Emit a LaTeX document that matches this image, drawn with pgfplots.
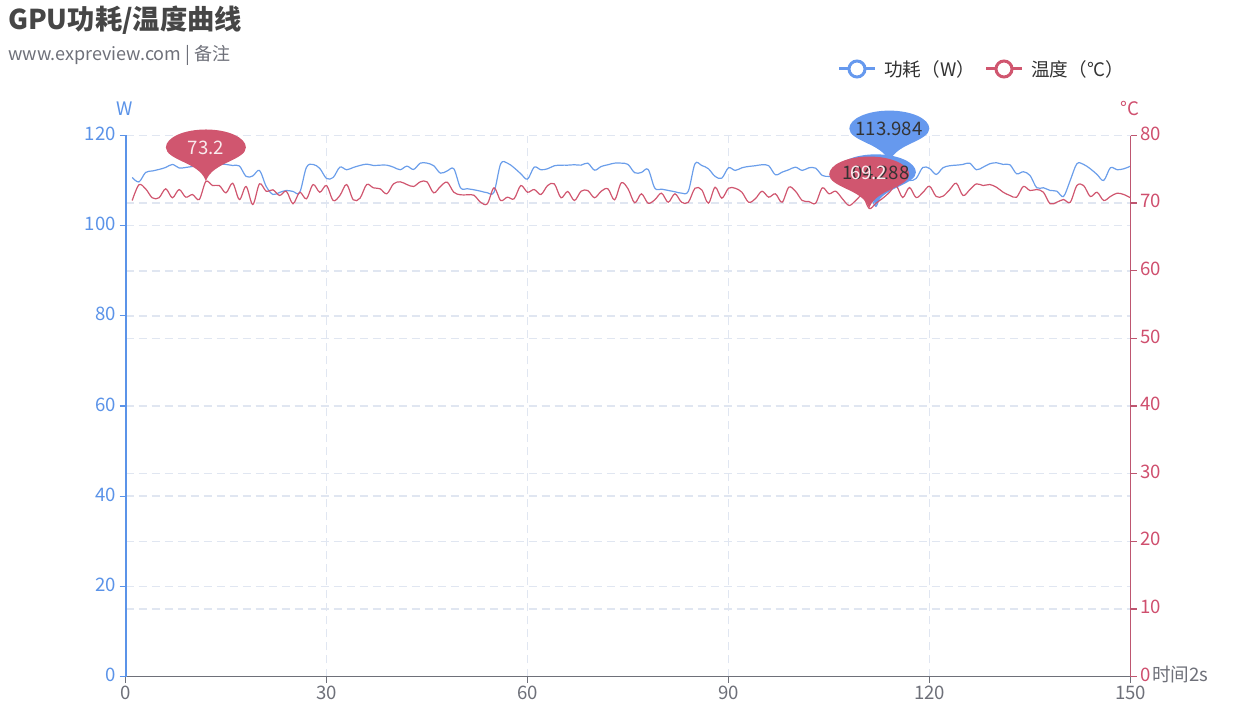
\documentclass[border=0pt]{standalone}
\usepackage{pgfplots}
\usepackage{pgfplotstable}
\usepackage{fontspec}
\pgfplotsset{compat=1.18}
\setmainfont{Noto Sans CJK SC}
\definecolor{cblue}{HTML}{6699EE}
\definecolor{cbluet}{HTML}{5B93E8}
\definecolor{cred}{HTML}{D0566F}
\definecolor{credt}{HTML}{CF4F6E}
\definecolor{credl}{HTML}{BE5670}
\definecolor{grayt}{HTML}{6E7079}
\definecolor{gridc}{HTML}{E0E6F1}
\definecolor{darkt}{HTML}{333333}
\definecolor{titlec}{HTML}{464646}
\pgfdeclareplotmark{pin}{%
  \pgfpathmoveto{\pgfpoint{0pt}{0pt}}%
  \pgfpathcurveto{\pgfpoint{-2pt}{7pt}}{\pgfpoint{-8pt}{13pt}}{\pgfpoint{-22pt}{19.3pt}}%
  \pgfpathcurveto{\pgfpoint{-32pt}{24pt}}{\pgfpoint{-40pt}{28pt}}{\pgfpoint{-40pt}{34pt}}%
  \pgfpathcurveto{\pgfpoint{-40pt}{44pt}}{\pgfpoint{-22pt}{52pt}}{\pgfpoint{0pt}{52pt}}%
  \pgfpathcurveto{\pgfpoint{22pt}{52pt}}{\pgfpoint{40pt}{44pt}}{\pgfpoint{40pt}{34pt}}%
  \pgfpathcurveto{\pgfpoint{40pt}{28pt}}{\pgfpoint{32pt}{24pt}}{\pgfpoint{22pt}{19.3pt}}%
  \pgfpathcurveto{\pgfpoint{8pt}{13pt}}{\pgfpoint{2pt}{7pt}}{\pgfpoint{0pt}{0pt}}%
  \pgfpathclose\pgfusepathqfill}
\pgfplotstableread{
t W
1 110.69
2 109.70
3 111.80
4 112.13
5 112.47
6 112.91
7 113.58
8 112.80
9 112.91
10 113.13
11 113.24
12 113.35
13 113.58
14 113.69
15 113.58
16 113.35
17 113.24
18 110.92
19 111.03
20 112.25
21 108.70
22 106.92
23 107.37
24 107.81
25 107.59
26 107.37
27 112.91
28 113.58
29 112.69
30 110.47
31 110.69
32 112.98
33 112.40
34 112.91
35 113.35
36 113.65
37 113.35
38 113.42
39 113.42
40 112.98
41 112.40
42 113.20
43 112.47
44 113.87
45 113.87
46 113.29
47 111.65
48 112.13
49 112.62
50 108.41
51 108.19
52 107.96
53 107.65
54 107.30
55 107.43
56 113.73
57 113.87
58 112.84
59 111.51
60 110.32
61 112.98
62 112.40
63 112.62
64 113.29
65 113.42
66 113.42
67 113.51
68 113.42
69 113.87
70 112.31
71 113.13
72 113.51
73 113.87
74 113.87
75 113.58
76 111.74
77 111.80
78 112.47
79 108.32
80 108.10
81 107.81
82 107.52
83 107.21
84 107.65
85 113.73
86 113.35
87 112.62
88 110.92
89 110.54
90 112.84
91 112.25
92 112.84
93 113.13
94 113.29
95 113.51
96 113.29
97 111.29
98 111.87
99 112.40
100 112.98
101 112.25
102 112.84
103 112.75
104 111.14
105 110.92
106 110.92
107 111.80
108 112.25
109 112.69
110 111.14
111 107.81
112 104.288
113 108.92
114 113.984
115 112.25
116 111.14
117 110.03
118 110.47
119 112.91
120 112.69
121 111.36
122 112.84
123 113.29
124 113.42
125 113.58
126 113.87
127 112.40
128 112.98
129 113.73
130 113.95
131 113.58
132 113.51
133 111.51
134 111.96
135 111.14
136 108.41
137 108.41
138 107.81
139 107.65
140 106.48
141 110.03
142 113.73
143 113.58
144 112.62
145 111.36
146 110.03
147 112.84
148 112.40
149 112.62
150 113.20
}\powertable
\pgfplotstableread{
t T
1 70.39
2 72.71
3 72.12
4 70.79
5 70.79
6 72.12
7 70.79
8 72.01
9 70.88
10 71.27
11 70.53
12 73.20
13 72.60
14 72.60
15 71.52
16 72.94
17 70.53
18 72.46
19 69.80
20 72.85
21 71.76
22 71.97
23 71.13
24 71.76
25 69.90
26 71.61
27 70.64
28 72.75
29 71.61
30 72.60
31 70.39
32 71.13
33 72.75
34 70.49
35 70.73
36 72.75
37 72.26
38 72.12
39 71.38
40 72.85
41 73.15
42 72.75
43 72.46
44 73.15
45 73.15
46 71.52
47 72.46
48 73.10
49 71.61
50 71.23
51 71.23
52 71.17
53 70.13
54 69.90
55 72.26
56 70.39
57 70.88
58 70.64
59 72.60
60 71.61
61 72.01
62 71.27
63 72.60
64 72.85
65 70.79
66 71.72
67 70.39
68 71.76
69 71.86
70 70.79
71 71.76
72 72.12
73 70.49
74 73.00
75 72.12
76 70.05
77 71.38
78 69.99
79 70.49
80 71.47
81 70.13
82 71.38
83 70.13
84 70.13
85 72.20
86 71.97
87 69.99
88 72.35
89 70.73
90 72.20
91 72.20
92 71.61
93 70.13
94 70.64
95 71.76
96 70.88
97 71.38
98 70.13
99 72.35
100 71.76
101 70.39
102 70.24
103 69.99
104 72.26
105 71.38
106 71.76
107 70.64
108 69.65
109 70.39
110 71.13
111 69.20
112 69.99
113 70.70
114 71.57
115 72.60
116 70.83
117 72.31
118 70.83
119 71.57
120 72.50
121 70.98
122 71.02
123 71.97
124 72.94
125 71.13
126 71.97
127 72.85
128 72.60
129 72.75
130 72.35
131 71.61
132 71.13
133 70.88
134 72.46
135 71.86
136 72.01
137 71.61
138 69.90
139 70.13
140 70.53
141 70.13
142 72.60
143 72.60
144 70.98
145 71.61
146 70.39
147 70.98
148 71.47
149 71.27
150 70.79
}\temptable
\newcommand{\sz}{\fontsize{18.6}{20}\selectfont}
\begin{document}
\begin{tikzpicture}[x=1pt,y=1pt]
\useasboundingbox (0,0) rectangle (1255,720);
\pgfplotsset{every axis/.append style={
  at={(125.5pt,43.5pt)},
  anchor=south west,
  scale only axis,width=1005pt,height=541pt,
  xmin=0,xmax=150,clip=false,
  /pgf/number format/assume math mode=true,
  tick align=outside,
  major tick length=6pt,
  axis line style={line width=1.3pt},
  tick style={line width=1.3pt},
  grid style={gridc,line width=1.5pt,dash pattern=on 8pt off 5pt},
}}
% grid lines of both scales, beneath everything
\begin{axis}[
  axis line style={draw=none},tick style={draw=none},
  ymin=0,ymax=80,
  ytick={10,20,...,70},xtick={30,60,...,120},
  yticklabels={},xticklabels={},
  grid=major,
]
\end{axis}
\begin{axis}[
  axis line style={draw=none},tick style={draw=none},
  ymin=0,ymax=120,
  ytick={20,40,...,120},xtick=\empty,
  yticklabels={},
  ymajorgrids=true,
]
\end{axis}
\begin{axis}[
  axis y line*=left,axis x line*=bottom,
  ymin=0,ymax=120,
  ytick={0,20,...,120},xtick={0,30,...,150},
  x axis line style={grayt,-},
  y axis line style={cbluet,-},
  xtick style={grayt},ytick style={cbluet},
  xticklabel style={grayt,font=\sz},
  yticklabel style={cbluet,font=\sz,yshift=1.5pt},
]
\addplot[cbluet!90!white,line width=1.2pt,smooth,tension=0.55,mark=none] table[x=t,y=W] {\powertable};
\addplot[only marks,mark=pin,mark options={fill=cblue,draw=none}] coordinates {(114,113.984) (112,104.288)};
\end{axis}
\begin{axis}[
  axis y line*=right,axis x line=none,
  ymin=0,ymax=80,
  ytick={0,10,...,80},
  y axis line style={credl,-},
  ytick style={credl},
  yticklabel style={credt,font=\sz,yshift=2pt},
]
\addplot[cred,line width=1.2pt,smooth,tension=0.55,mark=none] table[x=t,y=T] {\temptable};
\addplot[only marks,mark=pin,mark options={fill=cred,draw=none}] coordinates {(12,73.2) (111,69.2)};
\end{axis}
\fill[cbluet] (124.5,43.5) rectangle (126.5,584.5);
% pin labels
\node[text=white!88!cred,font=\sz] at (206,720-148) {73.2};
\node[text=darkt,font=\sz] at (889,720-129) {113.984};
\node[text=darkt,font=\sz] at (876,720-173) {104.288};
\node[text=white!88!cred,font=\sz] at (869,720-173) {69.2};
% title
\node[anchor=base west,inner sep=0pt,text=titlec,font=\fontsize{27.3}{30}\selectfont\bfseries] at (8,720-30) {GPU功耗/温度曲线};
\node[anchor=base west,inner sep=0pt,text=grayt,font=\fontsize{18}{20}\selectfont] at (8,720-60.5) {www.expreview.com | 备注};
% axis names
\node[text=cbluet,font=\sz] at (125,720-109) {W};
\node[text=credt,font=\sz] at (1130,720-109) {°C};
\node[anchor=west,inner sep=0pt,text=grayt,font=\sz] at (1152,720-674) {时间2s};
% legend
\draw[cblue,line width=3pt] (839,720-69) -- (875,720-69);
\filldraw[cblue,fill=white,line width=3pt] (857,720-69) circle (8);
\node[anchor=west,inner sep=0pt,text=darkt,font=\sz] at (884,720-69) {功耗（W）};
\draw[cred,line width=3pt] (986,720-69) -- (1022,720-69);
\filldraw[cred,fill=white,line width=3pt] (1004,720-69) circle (8);
\node[anchor=west,inner sep=0pt,text=darkt,font=\sz] at (1031,720-69) {温度（°C）};
\end{tikzpicture}
\end{document}
